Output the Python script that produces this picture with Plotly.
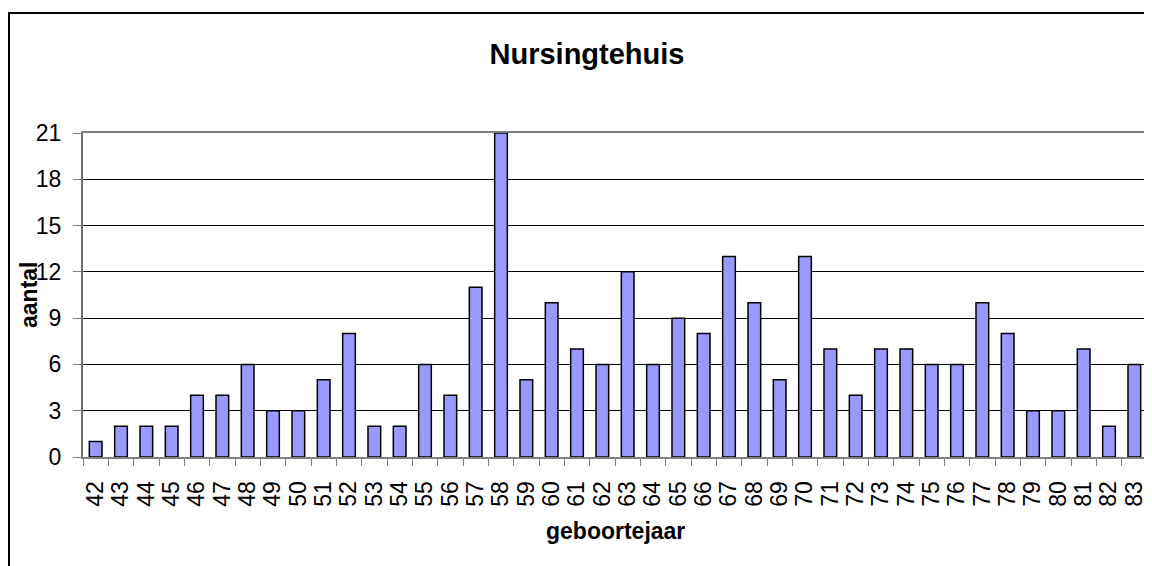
"""
Bar chart: Nursingtehuis, aantal per geboortejaar.
"""

import plotly.graph_objects as go

jaren = [str(j) for j in range(42, 84)]
aantal = [1, 2, 2, 2, 4, 4, 6, 3, 3, 5, 8, 2, 2, 6, 4, 11, 21, 5, 10, 7, 6,
          12, 6, 9, 8, 13, 10, 5, 13, 7, 4, 7, 7, 6, 6, 10, 8, 3, 3, 7, 2, 6]
y_ticks = [0, 3, 6, 9, 12, 15, 18, 21]

# page has an 8px body margin, so the figure is 8px smaller than the window
W, H = 1144, 558
L, R, T, B = 75, 5, 125, 109
FONT = "Liberation Sans, Arial, sans-serif"

fig = go.Figure()

fig.add_trace(go.Bar(x=jaren, y=aantal,
                     marker=dict(color="#9999FF",
                                 line=dict(color="black", width=1.5)),
                     hoverinfo="x+y"))

# pixel -> paper helpers for the outer chart border
pw, ph = W - L - R, H - T - B
px = lambda v: (v - L) / pw
py = lambda v: (H - B - v) / ph

fig.add_shape(type="path", xref="paper", yref="paper",
              path="M {} {} L {} {} L {} {}".format(px(1), py(570), px(1), py(5),
                                                    px(1160), py(5)),
              line=dict(color="black", width=2))

# axis titles as annotations so they sit where the original puts them
fig.add_annotation(text="<b>aantal</b>", xref="paper", yref="paper",
                   x=0, y=0.5, xanchor="center", yanchor="middle",
                   xshift=21 - L, textangle=-90, showarrow=False,
                   font=dict(size=23))
fig.add_annotation(text="<b>geboortejaar</b>", xref="paper", yref="paper",
                   x=0.5, y=0, xanchor="center", yanchor="middle",
                   yshift=-(523 - (H - B)), showarrow=False,
                   font=dict(size=23))

fig.update_layout(width=W, height=H,
                  margin=dict(l=L, r=R, t=T, b=B, autoexpand=False),
                  paper_bgcolor="white", plot_bgcolor="white",
                  font=dict(family=FONT, size=23, color="black"),
                  title=dict(text="<b>Nursingtehuis</b>", x=579 / W, xanchor="center",
                             y=1 - 46 / H, yanchor="middle",
                             font=dict(size=29)),
                  bargap=0.5,
                  showlegend=False)

fig.update_xaxes(type="category", tickmode="array", tickvals=jaren,
                 tickangle=-90, tickson="boundaries",
                 ticks="outside", ticklen=7, tickcolor="#808080",
                 ticklabelstandoff=13,
                 showline=True, linecolor="#808080", linewidth=2, mirror=True,
                 showgrid=False)

fig.update_yaxes(range=[0, 21], tickvals=y_ticks, ticks="outside", ticklen=8,
                 tickcolor="#808080", ticklabelstandoff=7,
                 showline=True, linecolor="#707070", linewidth=2, mirror=True,
                 showgrid=True, gridcolor="black", gridwidth=1,
                 zeroline=False)

fig.write_html("out.html")
